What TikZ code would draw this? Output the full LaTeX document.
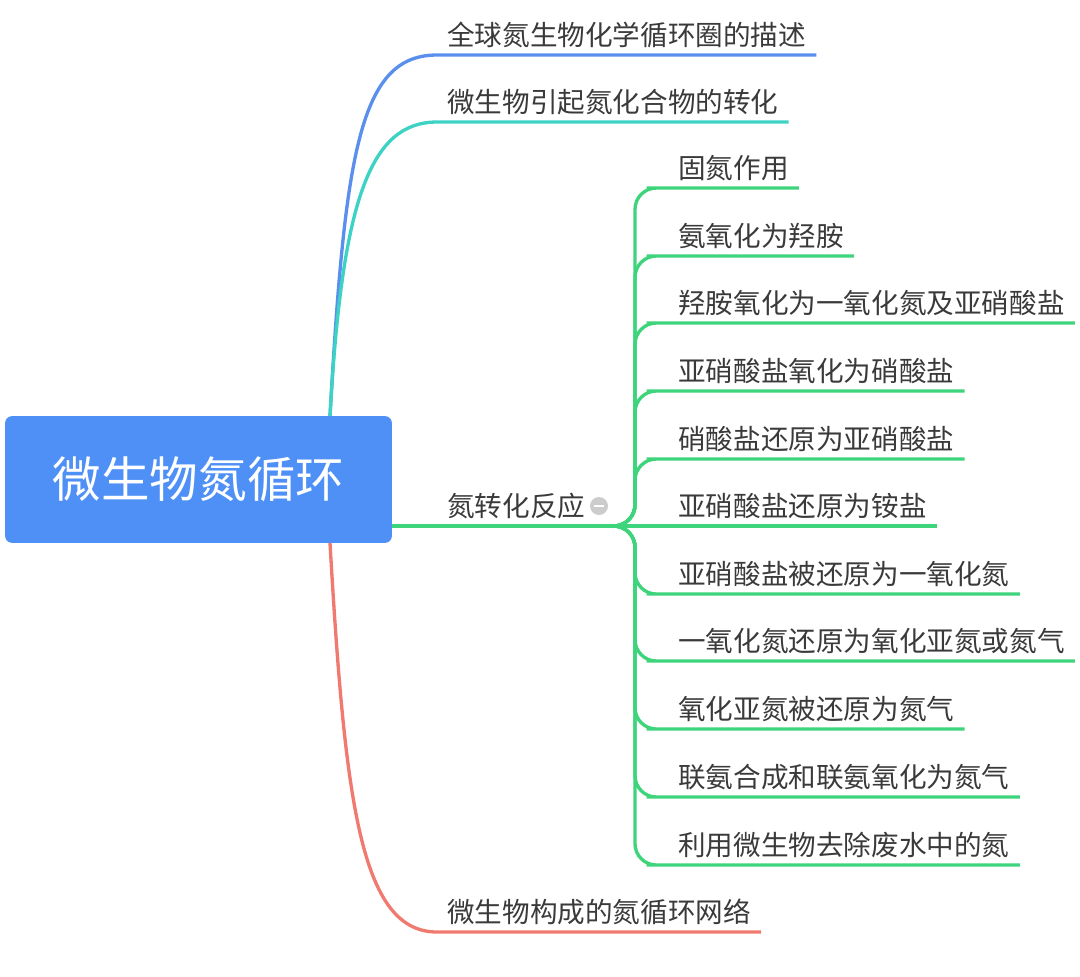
\documentclass[tikz,border=0pt]{standalone}
\usepackage{fontspec}
\setmainfont{Noto Sans CJK SC}
\usetikzlibrary{calc}

\definecolor{rootblue}{HTML}{4F90F7}
\definecolor{lineblue}{HTML}{5B8FEE}
\definecolor{linecyan}{HTML}{3CD2C4}
\definecolor{linegreen}{HTML}{3ED47C}
\definecolor{linered}{HTML}{F07A70}
\definecolor{textgray}{HTML}{3A3A3A}

\begin{document}
\begin{tikzpicture}[x=0.75pt, y=-0.75pt,
  root/.style={fill=rootblue, rounded corners=5pt, minimum width=290pt, minimum height=95pt, text=white, font=\fontsize{36.4}{40}\selectfont},
  topic/.style={anchor=south west, inner xsep=7.5pt, inner ysep=6.75pt, text depth=0pt, text=textgray, font=\fontsize{20.7}{24}\selectfont},
  branch/.style={line width=2.5pt},
  fold/.style={circle, fill=gray!40, inner sep=0pt, minimum size=13.5pt}]
\useasboundingbox (0,0) rectangle (1080,976);

% Root
\node[root] (root) at (198.5,479.5) {微生物氮循环};
\coordinate (rootT) at (330,416);
\coordinate (rootB) at (330,543);
\coordinate (rootR) at (392,526);
\coordinate (fork) at (617,526);

% Main topics
\node[topic] (b1) at (437,55) {全球氮生物化学循环圈的描述};
\node[topic] (b2) at (437,122) {微生物引起氮化合物的转化};
\node[topic] (b3) at (437,526) {氮转化反应};
\node[topic] (b4) at (437,932) {微生物构成的氮循环网络};
\node[fold] (minus) at (599,506) {\textcolor{white}{\rule{7pt}{1.8pt}}};

\draw[branch, lineblue] (rootT) .. controls (345,150) and (360,55) .. (b1.south west) -- (b1.south east);
\draw[branch, linecyan] (rootT) .. controls (342,200) and (370,122) .. (b2.south west) -- (b2.south east);
\draw[branch, linered] (rootB) .. controls (345,800) and (360,932) .. (b4.south west) -- (b4.south east);
\draw[branch, linegreen] (rootR) -- (fork);

% Reactions
\foreach \y/\txt [count=\i] in {188/固氮作用, 256/氨氧化为羟胺, 323/羟胺氧化为一氧化氮及亚硝酸盐,
    391/亚硝酸盐氧化为硝酸盐, 459/硝酸盐还原为亚硝酸盐, 526/亚硝酸盐还原为铵盐,
    594/亚硝酸盐被还原为一氧化氮, 661/一氧化氮还原为氧化亚氮或氮气, 729/氧化亚氮被还原为氮气,
    797/联氨合成和联氨氧化为氮气, 865/利用微生物去除废水中的氮} {
  \node[topic] (c\i) at (668,\y) {\txt};
}
\foreach \i in {1,2,3,4,5,7,8,9,10,11} {
  \draw[branch, linegreen, rounded corners=16pt] (fork) ++(-20,0) -- ++(38,0) |- (c\i.south west) -- (c\i.south east);
}
\draw[branch, linegreen] (fork) -- (c6.south west) -- (c6.south east);
\end{tikzpicture}
\end{document}
